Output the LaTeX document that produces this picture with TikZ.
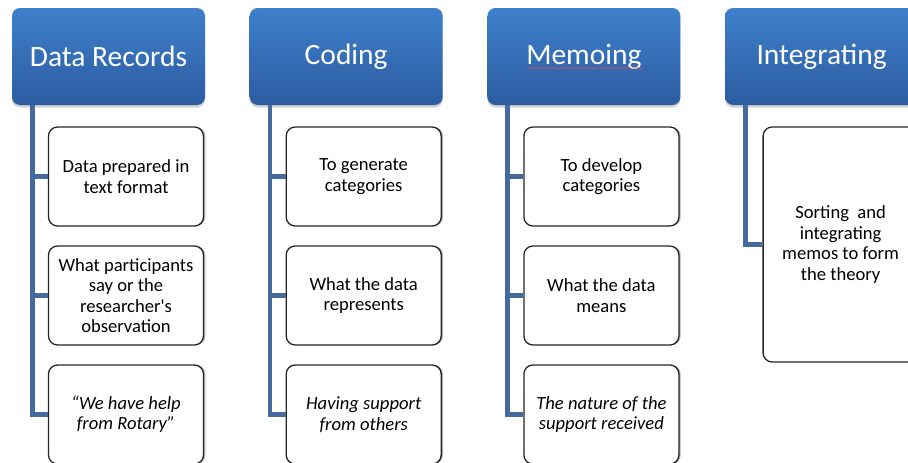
\documentclass[tikz,border=0pt]{standalone}
\usepackage{fontspec}
\setmainfont{Carlito}
\usetikzlibrary{positioning, shadows, decorations.pathmorphing}

\definecolor{headtop}{RGB}{62,128,204}
\definecolor{headbot}{RGB}{44,92,160}
\definecolor{branchblue}{RGB}{68,106,158}

\tikzset{
  head/.style={rectangle, rounded corners=8pt,
    minimum width=193pt, minimum height=97pt,
    top color=headtop, bottom color=headbot, text=white,
    font=\fontsize{29.5}{34}\selectfont,
    drop shadow={shadow xshift=0pt, shadow yshift=-2.5pt, opacity=0.35}},
  leaf/.style={rectangle, rounded corners=9pt,
    minimum width=155pt, minimum height=99pt, align=center,
    draw=black!85, line width=1.3pt, fill=white,
    font=\fontsize{18.6}{20.4}\selectfont,
    drop shadow={shadow xshift=1.8pt, shadow yshift=0pt, opacity=0.6}},
  branch/.style={draw=branchblue, line width=4.5pt},
}

\begin{document}
\begin{tikzpicture} [x=1pt, y=-1pt,
            node distance = 237.7pt,
            on grid]

        \useasboundingbox (0,0) rectangle (908,463);

        % Headers
        \node (dr) [head] at (108.5,56.5) {Data Records};
        \node (cd) [head, right = of dr] {Coding};
        \node (mm) [head, right = of cd] {Memoing};
        \node (ig) [head, right = of mm] {Integrating};

        % Data Records
        \node (dr1) [leaf, below right = 120pt and 17.5pt of dr]
            {Data prepared in\\ text format};
        \node (dr2) [leaf, below = 119pt of dr1]
            {What participants\\ say or the\\ researcher\textquotesingle s\\ observation};
        \node (dr3) [leaf, below = 119pt of dr2]
            {\itshape “We have help\\ \itshape from Rotary”};

        % Coding
        \node (cd1) [leaf, below right = 120pt and 17.5pt of cd]
            {To generate\\ categories};
        \node (cd2) [leaf, below = 119pt of cd1]
            {What the data\\ represents};
        \node (cd3) [leaf, below = 119pt of cd2]
            {\itshape Having support\\ \itshape from others};

        % Memoing
        \node (mm1) [leaf, below right = 120pt and 17.5pt of mm]
            {To develop\\ categories};
        \node (mm2) [leaf, below = 119pt of mm1]
            {What the data\\ means};
        \node (mm3) [leaf, below = 119pt of mm2]
            {\itshape The nature of the\\ \itshape support received};

        % Integrating
        \node (ig1) [leaf, minimum height=235pt,
            below right = 188pt and 19pt of ig]
            {Sorting~ and\\ integrating\\ memos to form\\ the theory};

        % Branches
        \draw [branch] ([xshift=20.5pt]dr.south west) |- (dr1.west);
        \draw [branch] ([xshift=20.5pt]dr.south west) |- (dr2.west);
        \draw [branch] ([xshift=20.5pt]dr.south west) |- (dr3.west);

        \draw [branch] ([xshift=20.5pt]cd.south west) |- (cd1.west);
        \draw [branch] ([xshift=20.5pt]cd.south west) |- (cd2.west);
        \draw [branch] ([xshift=20.5pt]cd.south west) |- (cd3.west);

        \draw [branch] ([xshift=20.5pt]mm.south west) |- (mm1.west);
        \draw [branch] ([xshift=20.5pt]mm.south west) |- (mm2.west);
        \draw [branch] ([xshift=20.5pt]mm.south west) |- (mm3.west);

        \draw [branch] ([xshift=20.5pt]ig.south west) |- (ig1.west);

        % spell-check squiggle
        \draw [red!75, line width=0.5pt, decorate,
            decoration={snake, amplitude=0.5pt, segment length=3pt}]
            ([shift={(-57,11.5)}]mm.center) -- ([shift={(59,11.5)}]mm.center);
\end{tikzpicture}
\end{document}
